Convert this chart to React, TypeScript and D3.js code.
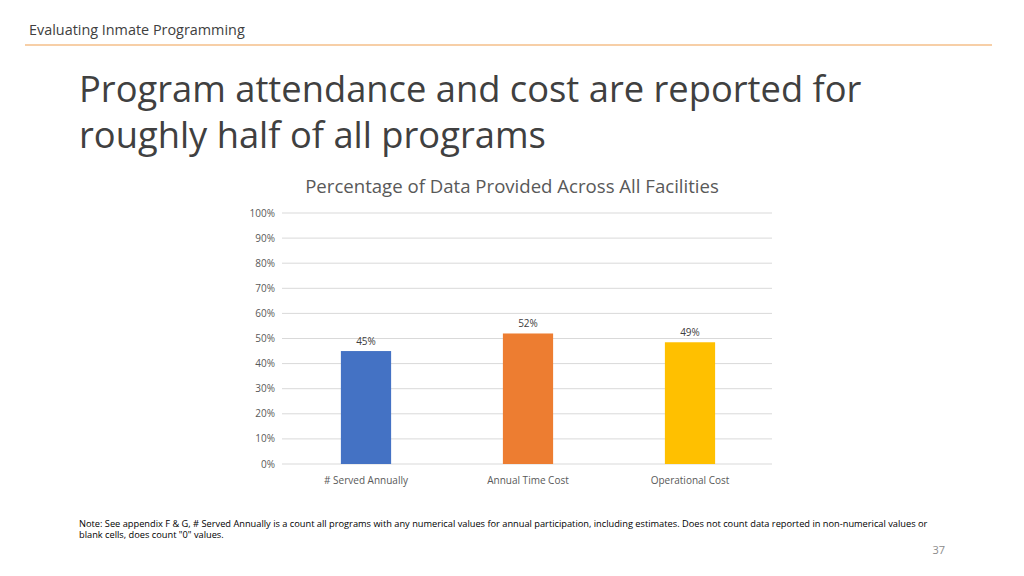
import React from "react";
import * as d3 from "d3";

const categories = ["# Served Annually", "Annual Time Cost", "Operational Cost"];
const values = [0.45, 0.52, 0.485];
const valueLabels = ["45%", "52%", "49%"];
const colors = ["#4472C4", "#ED7D31", "#FFC000"];
const ticks = [0, 0.1, 0.2, 0.3, 0.4, 0.5, 0.6, 0.7, 0.8, 0.9, 1.0];

const FONT = "'Open Sans', sans-serif";

export default function App() {
  const W = 1024, H = 576;
  const x = d3.scaleBand<string>().domain(categories).range([285, 771]).paddingInner(0.69).paddingOuter(0.345);
  const y = d3.scaleLinear().domain([0, 1]).range([464, 213]);
  const fmt = d3.format(".0%");
  return (
    <svg width={W} height={H} style={{ position: "absolute", left: 0, top: 0, background: "#fff" }} fontFamily={FONT}>
      <text x={29} y={35} fontSize={14.4} fill="#404040">Evaluating Inmate Programming</text>
      <line x1={25} x2={992} y1={45} y2={45} stroke="#F0A050" strokeWidth={1.2} />
      <text x={79} y={102} fontSize={36.3} fill="#404040">
        <tspan x={79} y={102}>Program attendance and cost are reported for</tspan>
        <tspan x={79} y={148}>roughly half of all programs</tspan>
      </text>
      <text x={512} y={193} fontSize={18.6} fill="#595959" textAnchor="middle">Percentage of Data Provided Across All Facilities</text>
      {ticks.map((t) => (
        <g key={t}>
          <line x1={282} x2={772} y1={y(t)} y2={y(t)} stroke="#D9D9D9" strokeWidth={1} />
          <text x={275} y={y(t) + 3.5} fontSize={10} fill="#595959" textAnchor="end">{fmt(t)}</text>
        </g>
      ))}
      {categories.map((c, i) => (
        <g key={c}>
          <rect x={x(c)} y={y(values[i])} width={x.bandwidth()} height={y(0) - y(values[i])} fill={colors[i]} />
          <text x={(x(c) as number) + x.bandwidth() / 2} y={y(values[i]) - 6} fontSize={10} fill="#404040" textAnchor="middle">{valueLabels[i]}</text>
          <text x={(x(c) as number) + x.bandwidth() / 2} y={484} fontSize={10} fill="#595959" textAnchor="middle">{c}</text>
        </g>
      ))}
      <text x={79} y={527} fontSize={9.25} fill="#000">
        <tspan x={79} y={527}>Note: See appendix F &amp; G, # Served Annually is a count all programs with any numerical values for annual participation, including estimates. Does not count data reported in non-numerical values or</tspan>
        <tspan x={79} y={538}>blank cells, does count "0" values.</tspan>
      </text>
      <text x={945} y={554} fontSize={11} fill="#8C8C8C" textAnchor="end">37</text>
    </svg>
  );
}
